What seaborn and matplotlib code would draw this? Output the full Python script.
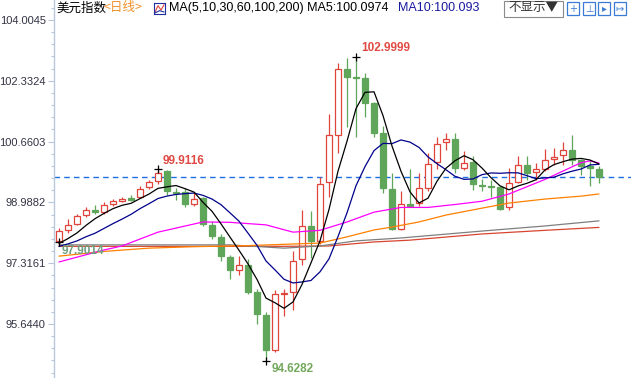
# %%
# ===== Libraries =====
import numpy as np
import pandas as pd
import matplotlib
matplotlib.use('Agg')
import matplotlib.pyplot as plt
from matplotlib.patches import Rectangle
from matplotlib.ticker import FixedLocator, AutoMinorLocator
import seaborn as sns

sns.set_theme(style='white')
plt.rcParams['font.family'] = ['Liberation Sans', 'Noto Sans CJK SC', 'DejaVu Sans']

# %%
# ===== Data (daily candles) =====
opens = [97.93, 98.22, 98.40, 98.64, 98.79, 98.73, 98.95, 99.04, 99.10, 99.13,
         99.41, 99.57, 99.84, 99.27, 99.27, 98.94, 99.11, 98.36, 98.04, 97.49,
         97.14, 97.27, 96.52, 95.90, 94.94, 96.48, 96.53, 97.42, 98.35, 97.92,
         99.55, 100.85, 102.65, 102.43, 102.40, 101.72, 100.89, 99.37, 98.26, 98.95,
         98.97, 99.38, 100.09, 100.64, 100.74, 99.93, 100.09, 99.48, 99.44, 99.41,
         98.85, 99.56, 100.02, 99.82, 99.90, 100.18, 100.28, 100.44, 100.16, 100.00,
         99.90]
highs = [98.29, 98.53, 98.67, 98.85, 98.93, 99.00, 99.08, 99.14, 99.20, 99.43,
         99.61, 99.9116, 99.88, 99.38, 99.38, 99.25, 99.13, 98.47, 98.13, 97.55,
         97.51, 97.42, 96.60, 95.97, 96.59, 96.62, 97.64, 98.79, 98.74, 99.69,
         101.42, 102.83, 102.95, 102.9999, 102.54, 101.76, 101.08, 99.80, 99.29, 99.90,
         99.80, 100.36, 100.80, 100.91, 100.91, 100.39, 100.27, 99.63, 99.61, 99.45,
         99.93, 100.27, 100.27, 100.07, 100.46, 100.49, 100.66, 100.85, 100.19, 100.12,
         99.98]
lows = [97.9014, 98.15, 98.37, 98.59, 98.68, 98.68, 98.88, 98.99, 99.02, 99.10,
        99.37, 99.50, 99.20, 99.06, 98.86, 98.88, 98.33, 97.97, 97.37, 96.89,
        97.00, 96.46, 95.64, 94.6282, 94.88, 95.86, 96.04, 97.28, 97.46, 97.85,
        99.14, 100.35, 101.05, 100.80, 101.35, 100.80, 99.25, 98.24, 98.24, 98.86,
        98.88, 99.29, 99.91, 100.44, 99.80, 99.89, 99.32, 99.31, 99.15, 98.79,
        98.77, 99.52, 99.61, 99.61, 99.86, 100.02, 100.02, 100.02, 99.75, 99.43,
        99.52]
closes = [98.19, 98.38, 98.62, 98.79, 98.72, 98.92, 99.03, 99.08, 99.06, 99.37,
          99.55, 99.81, 99.29, 99.24, 98.94, 99.08, 98.40, 98.06, 97.51, 97.12,
          97.27, 96.52, 95.93, 94.94, 96.48, 96.51, 97.39, 98.33, 97.92, 99.50,
          100.83, 102.65, 102.45, 102.41, 101.73, 100.91, 99.38, 98.26, 98.94, 98.90,
          99.38, 100.04, 100.59, 100.73, 99.93, 100.07, 99.49, 99.44, 99.41, 98.81,
          99.52, 100.02, 99.81, 99.90, 100.16, 100.25, 100.42, 100.16, 100.00, 99.94,
          99.70]
# closes just before the visible window (needed for MA5 / MA10)
prev_closes = [97.70, 97.80, 97.65, 97.75, 97.60, 97.70, 97.85, 97.75, 97.80]

# longer averages, read at a few candles
ma30_idx = [0, 5, 7, 11, 16, 19, 23, 26, 29, 32, 35, 38, 41, 44, 47, 50, 54, 58, 59, 60]
ma30_val = [97.35, 97.68, 97.79, 98.17, 98.45, 98.44, 98.37, 98.17, 98.22, 98.45,
            98.72, 98.85, 98.85, 98.93, 99.02, 99.22, 99.62, 100.08, 100.13, 100.07]
ma60_idx = [0, 5, 10, 15, 21, 29, 32, 35, 37, 40, 43, 47, 50, 54, 58, 60]
ma60_val = [97.51, 97.64, 97.73, 97.77, 97.80, 97.87, 98.04, 98.23, 98.31, 98.45,
            98.64, 98.83, 98.97, 99.08, 99.16, 99.22]
ma100_idx = [0, 19, 25, 29, 33, 38, 47, 54, 60]
ma100_val = [97.82, 97.82, 97.73, 97.79, 97.93, 98.01, 98.20, 98.34, 98.48]
ma200_idx = [0, 25, 30, 35, 39, 47, 54, 60]
ma200_val = [97.78, 97.78, 97.79, 97.90, 97.95, 98.12, 98.22, 98.30]

yticks = [95.6440, 97.3161, 98.9882, 100.6603, 102.3324, 104.0045]

# %%
# ===== Prep =====
o = np.array(opens); h = np.array(highs); l = np.array(lows); c = np.array(closes)
idx = np.arange(len(c))
full = pd.Series(prev_closes + closes)
ma5 = full.rolling(5).mean().iloc[len(prev_closes):].values
ma10 = full.rolling(10).mean().iloc[len(prev_closes):].values

UP = '#e0453c'
DOWN = '#5fa55a'
up = c >= o
body_lo = np.minimum(o, c)
body_h = np.maximum(np.abs(c - o), 0.02)

# %%
# ===== Plot =====
W, H = 631, 378
fig = plt.figure(figsize=(W / 100, H / 100), dpi=100)
ax = fig.add_axes([54 / W, 0, 1 - 54 / W, 1])
ax.set_facecolor('white')

# wicks
ax.vlines(idx[up], l[up], h[up], color=UP, linewidth=0.9, zorder=2)
ax.vlines(idx[~up], l[~up], h[~up], color=DOWN, linewidth=0.9, zorder=2)
# bodies
ax.bar(idx[up], body_h[up], bottom=body_lo[up], width=0.68,
       facecolor='white', edgecolor=UP, linewidth=0.9, zorder=3)
ax.bar(idx[~up], body_h[~up], bottom=body_lo[~up], width=0.68,
       facecolor=DOWN, edgecolor=DOWN, linewidth=0.9, zorder=3)

# moving averages
sns.lineplot(x=ma200_idx, y=ma200_val, color='#d8452f', linewidth=0.9, ax=ax, zorder=4)
sns.lineplot(x=ma100_idx, y=ma100_val, color='#7f7f7f', linewidth=0.9, ax=ax, zorder=4)
sns.lineplot(x=ma60_idx, y=ma60_val, color='#ff8000', linewidth=0.9, ax=ax, zorder=4)
sns.lineplot(x=ma30_idx, y=ma30_val, color='#ff00ff', linewidth=0.9, ax=ax, zorder=4)
sns.lineplot(x=idx, y=ma10, color='#00008b', linewidth=0.9, ax=ax, zorder=5)
sns.lineplot(x=idx, y=ma5, color='black', linewidth=0.9, ax=ax, zorder=6)

# last price line
ax.axhline(c[-1], color='#1f6fe0', linestyle=(0, (4, 3)), linewidth=1.0, zorder=1)

# highs / lows (whole window and the first swing)
hi_all = int(np.argmax(h)); lo_all = int(np.argmin(l))
hi_a = int(np.argmax(h[:15])); lo_a = int(np.argmin(l[:15]))
marks = [(hi_all, h[hi_all], (5, 9), '#e04a45'),
         (hi_a, h[hi_a], (5, 8), '#e04a45'),
         (lo_all, l[lo_all], (6, -8), '#73a85c'),
         (lo_a, l[lo_a], (3, -9), '#6f9f80')]
for i, v, off, col in marks:
    ax.plot(i, v, marker='+', color='black', markersize=6, markeredgewidth=0.9, zorder=7)
    ax.annotate(f'{v:.4f}', (i, v), xytext=off, textcoords='offset pixels',
                color=col, fontsize=8.5, fontweight='bold', va='center', ha='left', zorder=8)

# axes
ax.set_xlim((54 - 59) / 9, (W - 59) / 9)
ax.set_ylim(104.0045 - (H - 20) / 36.36, 104.0045 + 20 / 36.36)
ax.set_xticks([])
ax.yaxis.set_major_locator(FixedLocator(yticks))
ax.set_yticklabels([f'{t:.4f}' for t in yticks])
ax.yaxis.set_minor_locator(AutoMinorLocator(5))
ax.tick_params(axis='y', which='major', length=4, width=0.8, color='#b8c8dc',
               labelsize=8, labelcolor='#333344', pad=2, left=True)
ax.tick_params(axis='y', which='minor', length=2, width=0.8, color='#b8c8dc', left=True)
for s in ['top', 'right', 'bottom']:
    ax.spines[s].set_visible(False)
ax.spines['left'].set_color('#b8c8dc')
ax.spines['left'].set_linewidth(1)
ax.grid(False)

# %%
# ===== Header =====
ty = 1 - 8 / H
fig.text(56 / W, ty, '美元指数', fontsize=9, color='black', va='center',
         family=['Noto Sans CJK SC', 'DejaVu Sans'])
fig.text(104 / W, ty, '<日线>', fontsize=9, color='#f0902c', va='center',
         family=['Noto Sans CJK SC', 'DejaVu Sans'])
icon = fig.add_axes([154 / W, 1 - 14 / H, 11 / W, 11 / H])
icon.plot([0, 1, 2, 3], [0.5, 2.5, 1.2, 2.8], color='#e0453c', linewidth=0.8)
icon.plot([0, 1.5, 3], [0.3, 1.0, 0.6], color='#2030a0', linewidth=0.8)
icon.set_xlim(-0.3, 3.3); icon.set_ylim(0, 3.3)
icon.set_xticks([]); icon.set_yticks([])
for s in icon.spines.values():
    s.set_color('#2030a0'); s.set_linewidth(0.8)
fig.text(169 / W, ty, 'MA(5,10,30,60,100,200) MA5:100.0974', fontsize=9,
         color='black', va='center')
fig.text(398 / W, ty, 'MA10:100.093', fontsize=9, color='#1a1aa0', va='center')

fig.add_artist(Rectangle((504 / W, 1 - 17 / H), 59 / W, 16 / H, transform=fig.transFigure,
                         facecolor='white', edgecolor='#8a8a8a', linewidth=0.8))
fig.text(533 / W, ty, '不显示▼', fontsize=9, color='#333333', va='center', ha='center',
         family=['Noto Sans CJK SC', 'DejaVu Sans'])
for x0, sym in zip([567, 583, 598, 614], ['+', '⊥', '▸', '↦']):
    fig.add_artist(Rectangle((x0 / W, 1 - 15 / H), 12 / W, 13 / H, transform=fig.transFigure,
                             facecolor='white', edgecolor='#3a7bd5', linewidth=0.9))
    fig.text((x0 + 6) / W, 1 - 8.5 / H, sym, fontsize=7, color='#3a7bd5',
             ha='center', va='center', family=['DejaVu Sans'])

fig.savefig('out.png', dpi=100)
